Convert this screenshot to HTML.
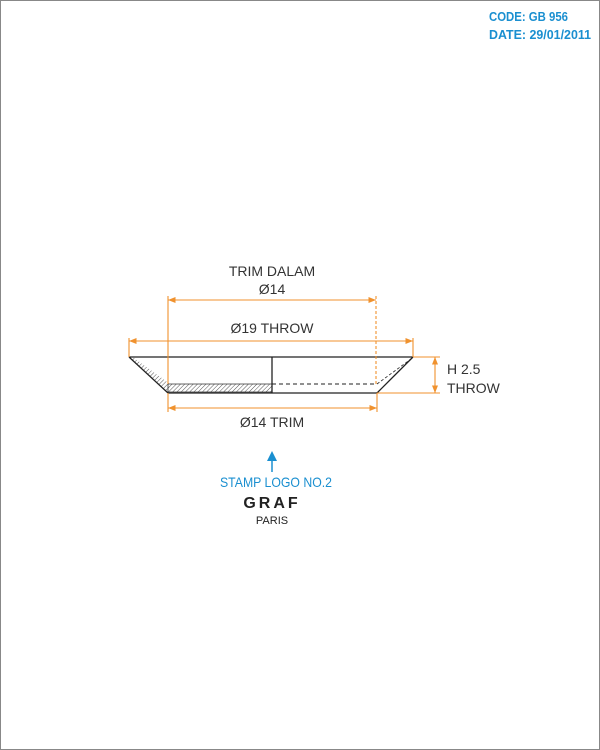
<!DOCTYPE html>
<html><head><meta charset="utf-8"><style>
html,body{margin:0;padding:0;background:#fff}
svg{display:block}
text{font-family:"Liberation Sans",sans-serif}
</style></head><body>
<svg width="600" height="750" viewBox="0 0 600 750">
<defs>
<pattern id="hatch" width="3" height="3" patternUnits="userSpaceOnUse" patternTransform="rotate(45)"><line x1="0" y1="0" x2="0" y2="3" stroke="#555" stroke-width="1"/></pattern>
<marker id="ar" viewBox="0 0 10 10" refX="10" refY="5" markerWidth="7" markerHeight="7" orient="auto-start-reverse"><path d="M0,1 L10,5 L0,9z" fill="#f0922e"/></marker>
</defs>
<rect x="0.5" y="0.5" width="599" height="749" fill="#fff" stroke="#888"/>
<g fill="#1a8fd0" font-weight="bold" font-size="13">
<text x="489" y="21" textLength="79" lengthAdjust="spacingAndGlyphs">CODE: GB 956</text>
<text x="489" y="39" textLength="102" lengthAdjust="spacingAndGlyphs">DATE: 29/01/2011</text>
</g>
<g stroke="#222" stroke-width="1.3" fill="none">
<polygon points="168,384 272,384 272,392 168,392" fill="url(#hatch)" stroke="#333" stroke-width="0.8"/>
<polygon points="129,357 134,358 170,384 168,393" fill="url(#hatch)" stroke="none"/>
<line x1="129" y1="357" x2="413" y2="357"/>
<line x1="129" y1="357" x2="168" y2="393"/>
<line x1="168" y1="393" x2="377" y2="393"/>
<line x1="377" y1="393" x2="413" y2="357"/>
<line x1="272" y1="357" x2="272" y2="393"/>
<line x1="272" y1="384" x2="377" y2="384" stroke-dasharray="4,3" stroke-width="1"/>
<line x1="377" y1="384" x2="411" y2="359" stroke-dasharray="3,2" stroke-width="0.8"/>
</g>
<g stroke="#f0922e" stroke-width="1.1" fill="none">
<line x1="168" y1="296" x2="168" y2="384"/>
<line x1="376" y1="296" x2="376" y2="384" stroke-dasharray="3,2"/>
<line x1="168" y1="300" x2="376" y2="300" marker-start="url(#ar)" marker-end="url(#ar)"/>
<line x1="129" y1="338" x2="129" y2="357"/>
<line x1="413" y1="338" x2="413" y2="357"/>
<line x1="129" y1="341" x2="413" y2="341" marker-start="url(#ar)" marker-end="url(#ar)"/>
<line x1="168" y1="393" x2="168" y2="412"/>
<line x1="377" y1="393" x2="377" y2="412"/>
<line x1="168" y1="408" x2="377" y2="408" marker-start="url(#ar)" marker-end="url(#ar)"/>
<line x1="413" y1="357" x2="440" y2="357"/>
<line x1="377" y1="393" x2="440" y2="393"/>
<line x1="435" y1="357" x2="435" y2="393" marker-start="url(#ar)" marker-end="url(#ar)"/>
</g>
<g fill="#333" font-size="14" text-anchor="middle">
<text x="272" y="276">TRIM DALAM</text>
<text x="272" y="294">Ø14</text>
<text x="272" y="333">Ø19 THROW</text>
<text x="272" y="427">Ø14 TRIM</text>
<text x="447" y="374" text-anchor="start">H 2.5</text>
<text x="447" y="393" text-anchor="start">THROW</text>
</g>
<g>
<line x1="272" y1="472" x2="272" y2="460" stroke="#1a8fd0" stroke-width="1.5"/>
<path d="M267,461 L272,451 L277,461z" fill="#1a8fd0"/>
<text x="220" y="487" textLength="112" lengthAdjust="spacingAndGlyphs" fill="#1a8fd0" font-size="14">STAMP LOGO NO.2</text>
<text x="272" y="508" text-anchor="middle" fill="#222" font-size="16" font-weight="bold" letter-spacing="3">GRAF</text>
<text x="272" y="524" text-anchor="middle" fill="#222" font-size="11">PARIS</text>
</g>
</svg>
</body></html>
